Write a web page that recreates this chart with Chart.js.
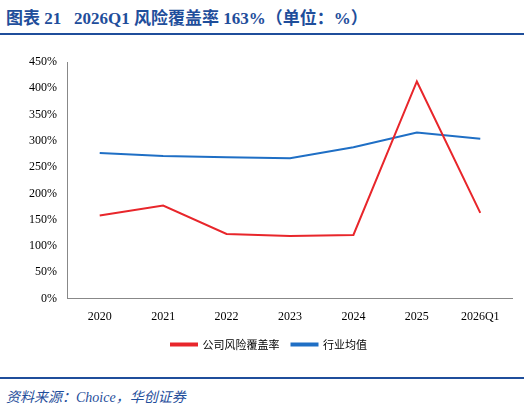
<!DOCTYPE html>
<html><head><meta charset="utf-8">
<script src="https://cdn.jsdelivr.net/npm/chart.js@4"></script>
<style>
body{margin:0;width:524px;height:413px;background:#fff;font-family:"Noto Sans CJK SC","Liberation Serif",serif;position:relative}
#title{position:absolute;left:6px;top:4px;font-size:17px;font-weight:bold;color:#1f4e9b;font-family:"Liberation Serif","Noto Sans CJK SC",serif}
#top{position:absolute;left:0;top:33px;width:524px;border-top:2px solid #1f4e9b}
#wrap{position:absolute;left:0;top:50px;width:524px;height:310px}
#bottom{position:absolute;left:0;top:377px;width:524px;border-top:2px solid #1f4e9b}
#src{position:absolute;left:6px;top:386px;font-size:14px;font-style:italic;color:#1f4e9b;font-family:"Liberation Serif","Noto Sans CJK SC",serif}
</style></head><body>
<div id="title">图表 21&nbsp;&nbsp;&nbsp;2026Q1 风险覆盖率 163%（单位：%）</div>
<div id="top"></div>
<div id="wrap"><canvas id="c" width="524" height="310"></canvas></div>
<div id="bottom"></div>
<div id="src">资料来源：Choice，华创证券</div>
<script>
// --- Data ---
const years = ["2020", "2021", "2022", "2023", "2024", "2025", "2026Q1"];
const companyCoverage = [158, 177, 123, 119, 121, 413, 163];
const industryAvg = [277, 271, 269, 267, 288, 316, 304];

const font = { family: "Liberation Serif", size: 12 };
new Chart(document.getElementById('c'), {
  type: 'line',
  data: {
    labels: years,
    datasets: [
      { label: '公司风险覆盖率', data: companyCoverage, borderColor: '#e8262b', backgroundColor: '#e8262b', borderWidth: 2, pointRadius: 0, tension: 0 },
      { label: '行业均值', data: industryAvg, borderColor: '#1f6fc5', backgroundColor: '#1f6fc5', borderWidth: 2, pointRadius: 0, tension: 0 }
    ]
  },
  options: {
    responsive: false,
    animation: false,
    layout: { padding: { left: 26, right: 12, top: 12, bottom: 0 } },
    plugins: {
      legend: {
        position: 'bottom',
        labels: { boxWidth: 26, boxHeight: 2, color: '#000', font: { family: "Noto Sans CJK SC", size: 11 }, padding: 12 }
      }
    },
    scales: {
      x: {
        offset: true,
        grid: { display: false },
        border: { color: '#888' },
        ticks: { color: '#000', font: font }
      },
      y: {
        min: 0, max: 450,
        grid: { display: false },
        border: { color: '#888' },
        ticks: { stepSize: 50, color: '#000', font: font, callback: v => v + '%' }
      }
    }
  }
});
</script>
</body></html>
